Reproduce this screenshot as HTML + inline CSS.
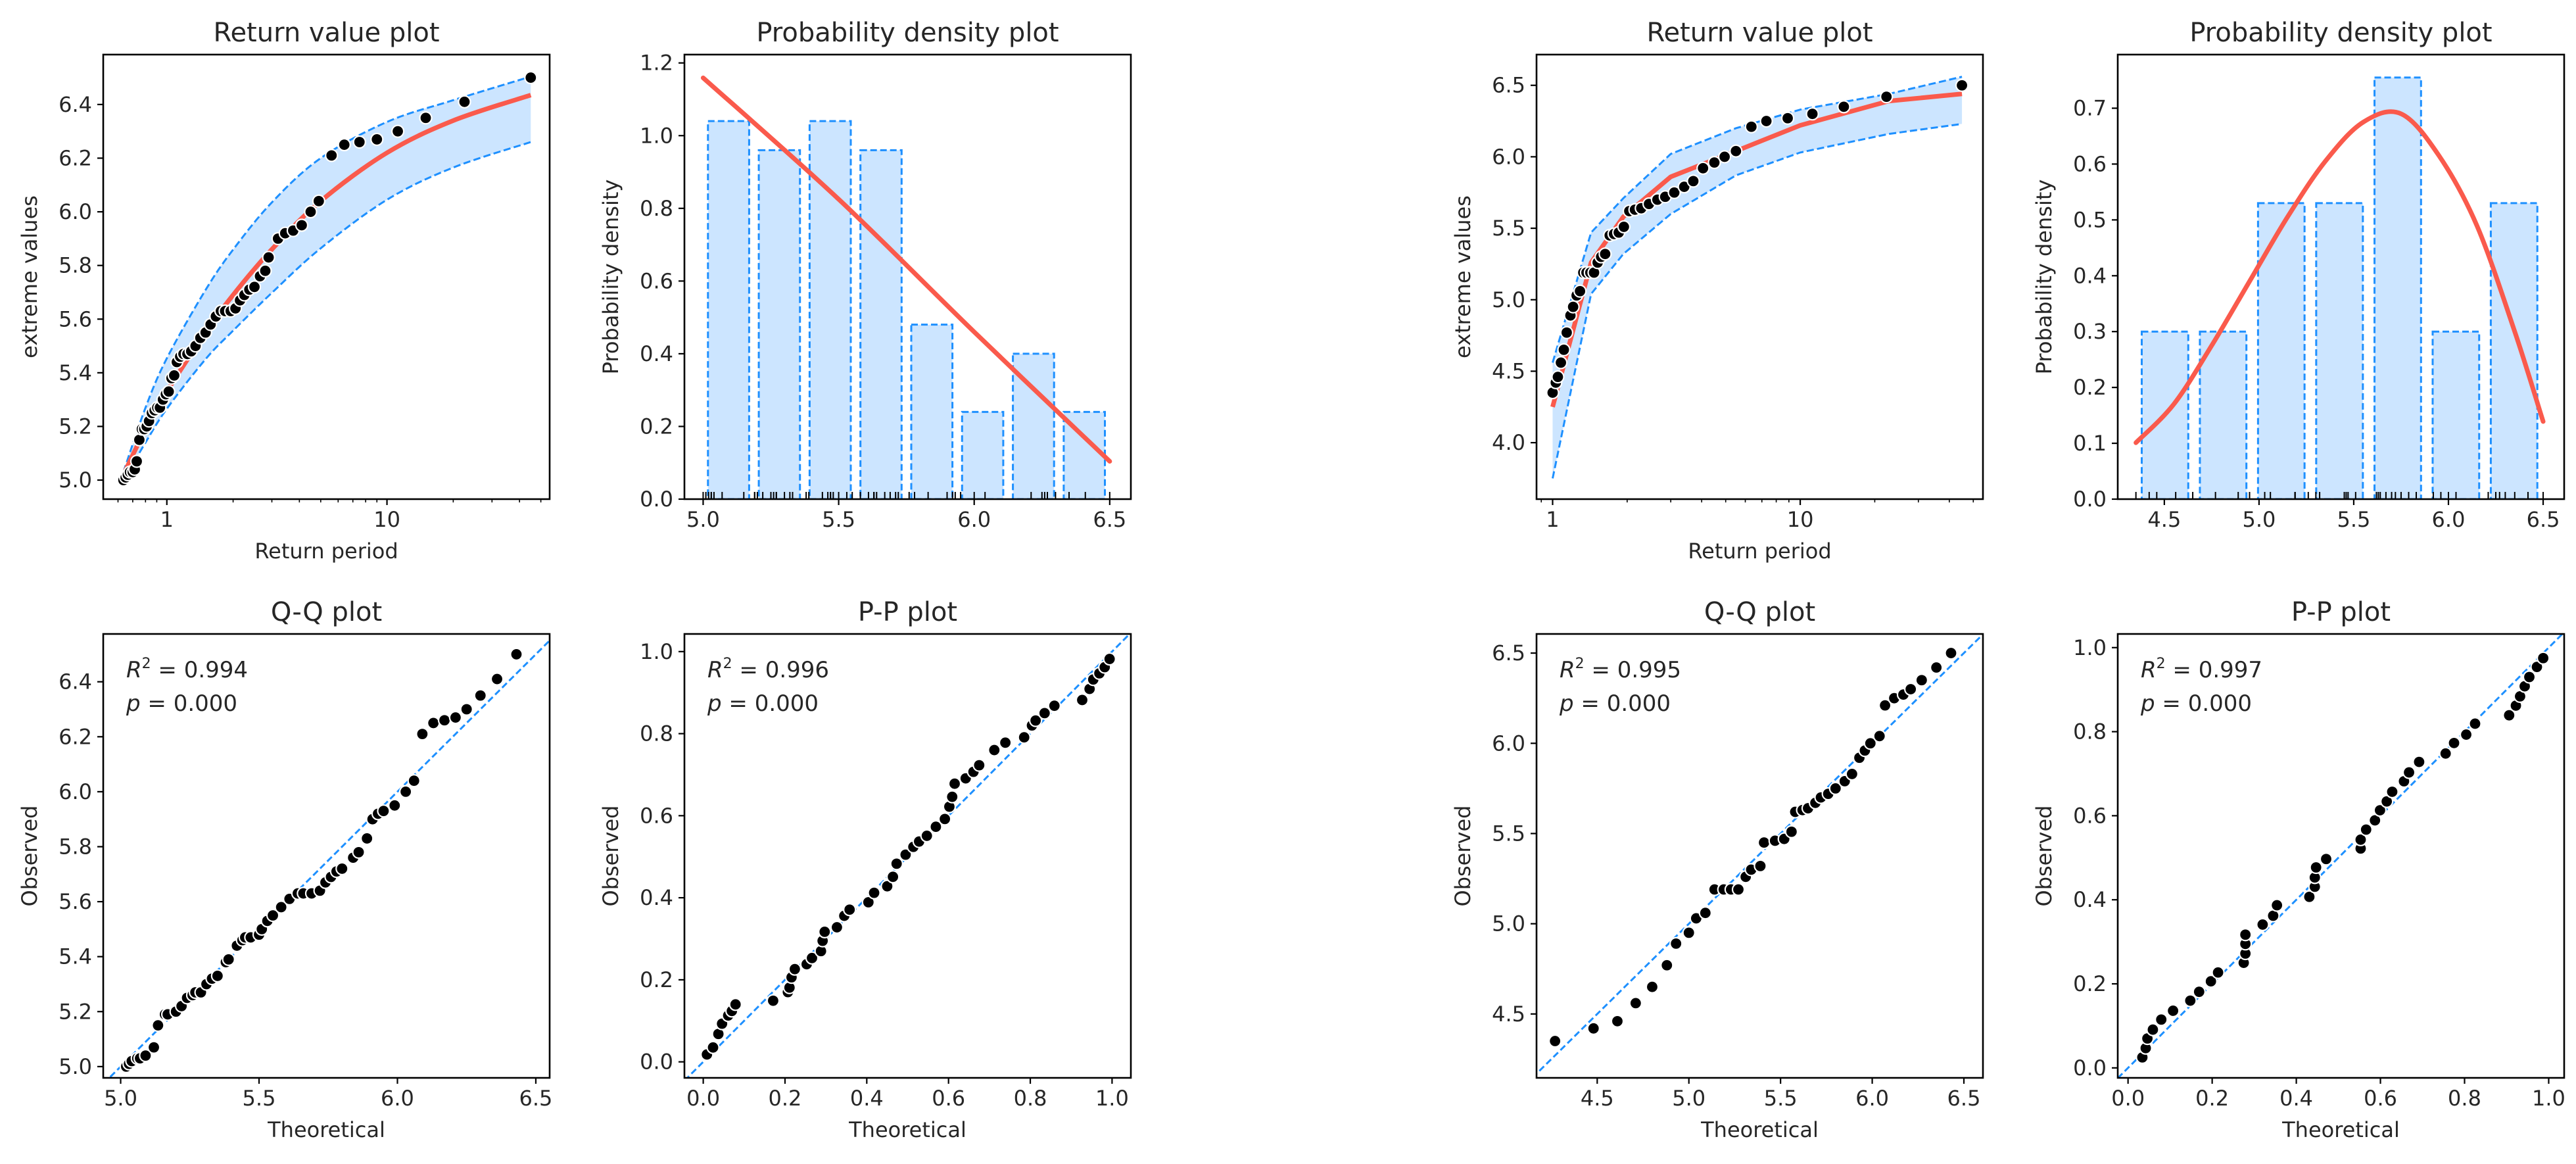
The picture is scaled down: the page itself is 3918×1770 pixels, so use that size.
<!DOCTYPE html>
<html><head><meta charset="utf-8"><style>
html,body{margin:0;padding:0;background:#fff;}
svg{display:block;font-family:"DejaVu Sans","Liberation Sans",sans-serif;}
</style></head><body>
<svg id="fig" width="3918" height="1770" viewBox="0 0 3918 1770" xmlns="http://www.w3.org/2000/svg"></svg>
<script>
// ---------- data: left dataset ----------
const lrObs=[5.00,5.01,5.02,5.03,5.03,5.04,5.07,5.15,5.19,5.19,5.20,5.22,5.25,5.26,5.27,5.27,5.30,5.32,5.33,5.38,5.39,5.44,5.46,5.47,5.47,5.48,5.50,5.53,5.55,5.58,5.61,5.63,5.63,5.63,5.64,5.67,5.69,5.71,5.72,5.76,5.78,5.83,5.90,5.92,5.93,5.95,6.00,6.04,6.21,6.25,6.26,6.27,6.30,6.35,6.41,6.50];
const lrPeriod=[0.635,0.65,0.665,0.68,0.70,0.715,0.73,0.75,0.77,0.79,0.81,0.83,0.855,0.88,0.905,0.93,0.96,0.99,1.02,1.05,1.08,1.11,1.15,1.19,1.24,1.29,1.35,1.42,1.50,1.58,1.67,1.76,1.84,1.95,2.05,2.15,2.25,2.37,2.50,2.65,2.8,2.9,3.2,3.45,3.75,4.1,4.5,4.9,5.6,6.4,7.5,9.0,11.2,15.0,22.5,45];
const lrCurveT=[0.635,0.8,1,1.5,2,3,5,10,20,45];
const lrFit=[5.02,5.19,5.33,5.55,5.69,5.86,6.04,6.22,6.34,6.435];
const lrUpper=[5.03,5.27,5.454,5.709,5.859,6.035,6.20,6.335,6.416,6.504];
const lrLower=[5.00,5.14,5.266,5.451,5.557,5.698,5.864,6.045,6.165,6.26];
const lpBinEdges=[5.0,5.1875,5.375,5.5625,5.75,5.9375,6.125,6.3125,6.5];
const lpDensity=[1.04,0.96,1.04,0.96,0.48,0.24,0.40,0.24];
const lpCurveX=[5.0,5.5,6.0,6.5];
const lpCurveY=[1.159,0.825,0.46,0.104];
const lqTheor=[5.02,5.03,5.04,5.06,5.07,5.09,5.12,5.135,5.16,5.17,5.20,5.22,5.24,5.26,5.27,5.29,5.31,5.33,5.35,5.38,5.39,5.42,5.44,5.45,5.47,5.50,5.51,5.53,5.55,5.58,5.61,5.64,5.66,5.69,5.72,5.74,5.76,5.78,5.80,5.84,5.86,5.89,5.91,5.93,5.95,5.99,6.03,6.06,6.09,6.13,6.17,6.21,6.25,6.30,6.36,6.43];
const lqObs=lrObs;
const lppTheor=[0.009,0.024,0.037,0.046,0.061,0.07,0.079,0.171,0.207,0.211,0.216,0.224,0.253,0.266,0.288,0.292,0.297,0.327,0.345,0.358,0.404,0.418,0.45,0.464,0.473,0.495,0.514,0.528,0.547,0.569,0.591,0.602,0.609,0.615,0.642,0.661,0.675,0.712,0.739,0.785,0.804,0.813,0.835,0.859,0.927,0.945,0.954,0.969,0.982,0.994];
const lppObs=[0.018,0.035,0.068,0.093,0.113,0.124,0.14,0.149,0.17,0.181,0.206,0.226,0.238,0.253,0.27,0.295,0.317,0.328,0.356,0.371,0.389,0.412,0.428,0.451,0.483,0.505,0.524,0.537,0.551,0.573,0.592,0.622,0.646,0.678,0.691,0.707,0.723,0.76,0.778,0.791,0.82,0.832,0.85,0.868,0.882,0.909,0.932,0.947,0.962,0.982];
// ---------- data: right dataset ----------
const rrObs=[4.35,4.42,4.46,4.56,4.65,4.77,4.89,4.95,5.03,5.06,5.19,5.19,5.19,5.19,5.26,5.30,5.32,5.45,5.46,5.47,5.51,5.62,5.63,5.64,5.67,5.70,5.72,5.75,5.79,5.83,5.92,5.96,6.00,6.04,6.21,6.25,6.27,6.30,6.35,6.42,6.50];
const rrPeriod=[1.00,1.03,1.05,1.08,1.11,1.14,1.18,1.21,1.25,1.29,1.33,1.37,1.42,1.47,1.52,1.57,1.63,1.70,1.77,1.85,1.94,2.04,2.15,2.28,2.45,2.65,2.85,3.1,3.4,3.7,4.05,4.5,4.95,5.5,6.35,7.3,8.9,11.2,15.0,22.3,45];
const rrCurveT=[1.0,1.43,1.93,3.0,5.5,10,22.8,45];
const rrFit=[4.25,5.26,5.58,5.86,6.04,6.22,6.39,6.44];
const rrUpper=[4.56,5.47,5.71,6.02,6.20,6.33,6.44,6.56];
const rrLower=[3.75,5.04,5.32,5.60,5.87,6.03,6.16,6.23];
const rpBinEdges=[4.35,4.657,4.964,5.271,5.579,5.886,6.193,6.5];
const rpDensity=[0.30,0.30,0.53,0.53,0.755,0.30,0.53];
const rpCurveX=[4.35,4.55,4.75,4.95,5.15,5.35,5.55,5.75,5.95,6.15,6.35,6.5];
const rpCurveY=[0.101,0.17,0.275,0.39,0.505,0.605,0.675,0.69,0.615,0.49,0.30,0.139];
const rqTheor=[4.27,4.48,4.61,4.71,4.80,4.88,4.93,5.00,5.04,5.09,5.14,5.19,5.23,5.27,5.31,5.34,5.39,5.41,5.47,5.52,5.56,5.58,5.62,5.65,5.69,5.72,5.76,5.80,5.85,5.89,5.93,5.96,5.99,6.04,6.07,6.12,6.17,6.21,6.27,6.35,6.43];
const rqObs=rrObs;
const rppTheor=[0.034,0.042,0.046,0.059,0.079,0.107,0.148,0.169,0.197,0.214,0.275,0.279,0.279,0.279,0.320,0.345,0.354,0.431,0.444,0.444,0.447,0.471,0.553,0.553,0.566,0.587,0.599,0.615,0.628,0.656,0.668,0.692,0.755,0.775,0.804,0.825,0.906,0.922,0.932,0.943,0.954,0.972,0.987];
const rppObs=[0.025,0.047,0.070,0.091,0.115,0.136,0.160,0.181,0.206,0.227,0.250,0.272,0.295,0.317,0.341,0.362,0.387,0.407,0.431,0.453,0.477,0.497,0.522,0.543,0.567,0.589,0.613,0.634,0.657,0.682,0.703,0.728,0.748,0.773,0.793,0.819,0.839,0.862,0.884,0.908,0.930,0.954,0.975];
// tick labels
const lrYTicks=[5.0,5.2,5.4,5.6,5.8,6.0,6.2,6.4];
const rrYTicks=[4.0,4.5,5.0,5.5,6.0,6.5];
const logTicks=[1,10];
const logMinor=[0.6,0.7,0.8,0.9,2,3,4,5,6,7,8,9,20,30,40,50];
const lpYTicks=[0.0,0.2,0.4,0.6,0.8,1.0,1.2];
const lpXTicks=[5.0,5.5,6.0,6.5];
const rpYTicks=[0.0,0.1,0.2,0.3,0.4,0.5,0.6,0.7];
const rpXTicks=[4.5,5.0,5.5,6.0,6.5];
const lqYTicks=[5.0,5.2,5.4,5.6,5.8,6.0,6.2,6.4];
const lqXTicks=[5.0,5.5,6.0,6.5];
const rqTicks=[4.5,5.0,5.5,6.0,6.5];
const ppTicks=[0.0,0.2,0.4,0.6,0.8,1.0];

const NS="http://www.w3.org/2000/svg";
const svg=document.getElementById('fig');
const TXT="#262626", BLUE="#1e90ff", FILL="#cce5ff", RED="#fa5a4c";
function mk(tag,attrs,parent){const e=document.createElementNS(NS,tag);for(const k in attrs)e.setAttribute(k,attrs[k]);(parent||svg).appendChild(e);return e;}
let clipId=0;
function makeAxes(box,xd,yd,logx,name){
  const g=mk('g',{});
  
  
  const sx=v=>{const t=logx?Math.log10(v):v;return box.x+(t-xd[0])/(xd[1]-xd[0])*box.w;};
  const sy=v=>box.y+box.h-(v-yd[0])/(yd[1]-yd[0])*box.h;
  const id='c'+(clipId++);
  const cp=mk('clipPath',{id:id},g);mk('rect',{x:box.x,y:box.y,width:box.w,height:box.h},cp);
  const plot=mk('g',{'clip-path':'url(#'+id+')'},g);
  return {g,plot,sx,sy,box};
}
function frame(ax){
  const b=ax.box;
  const r=mk('rect',{x:b.x,y:b.y,width:b.w,height:b.h,fill:'none',stroke:'#000','stroke-width':2.6},ax.g);
  
  
}
function fmt(v,d){return v.toFixed(d);}
function xticks(ax,vals,labels,minor){
  const b=ax.box;
  vals.forEach((v,i)=>{const x=ax.sx(v);
    mk('line',{x1:x,x2:x,y1:b.y+b.h,y2:b.y+b.h+9,stroke:'#000','stroke-width':2.2},ax.g);
    const t=mk('text',{x:x,y:b.y+b.h+42,'text-anchor':'middle','font-size':32,fill:TXT},ax.g);
    t.textContent=labels[i];
    
    
  });
  (minor||[]).forEach(v=>{const x=ax.sx(v);if(x<b.x||x>b.x+b.w)return;
    mk('line',{x1:x,x2:x,y1:b.y+b.h,y2:b.y+b.h+5,stroke:'#000','stroke-width':1.6},ax.g);});
}
function yticks(ax,vals,labels){
  const b=ax.box;
  vals.forEach((v,i)=>{const y=ax.sy(v);
    mk('line',{x1:b.x-9,x2:b.x,y1:y,y2:y,stroke:'#000','stroke-width':2.2},ax.g);
    const t=mk('text',{x:b.x-17,y:y+11,'text-anchor':'end','font-size':32,fill:TXT},ax.g);
    t.textContent=labels[i];
    
    
  });
}
function labels(ax,title,xl,yl){
  const b=ax.box,cx=b.x+b.w/2;
  const t=mk('text',{x:cx,y:b.y-20,'text-anchor':'middle','font-size':40,fill:TXT},ax.g);t.textContent=title;
  
  
  const x=mk('text',{x:cx,y:b.y+b.h+90,'text-anchor':'middle','font-size':32,fill:TXT},ax.g);x.textContent=xl;
  
  
  const yx=b.x-112,yy=b.y+b.h/2;
  const y=mk('text',{x:yx,y:yy,'text-anchor':'middle','font-size':32,fill:TXT,transform:'rotate(-90 '+yx+' '+yy+')','dominant-baseline':'central'},ax.g);y.textContent=yl;
  
  
}
function smooth(pts){
  let d='M'+pts[0][0]+','+pts[0][1];
  for(let i=0;i<pts.length-1;i++){
    const p0=pts[Math.max(0,i-1)],p1=pts[i],p2=pts[i+1],p3=pts[Math.min(pts.length-1,i+2)];
    const c1=[p1[0]+(p2[0]-p0[0])/6,p1[1]+(p2[1]-p0[1])/6],c2=[p2[0]-(p3[0]-p1[0])/6,p2[1]-(p3[1]-p1[1])/6];
    d+=' C'+c1+' '+c2+' '+p2;
  }
  return d;
}
function poly(pts){return 'M'+pts.map(p=>p[0]+','+p[1]).join(' L');}
function points(ax,xs,ys){
  xs.forEach((v,i)=>{const c=mk('circle',{cx:ax.sx(v),cy:ax.sy(ys[i]),r:9,fill:'#000',stroke:'#fff','stroke-width':2.2},ax.plot);
    
    });
}
function returnPlot(box,xd,yd,T,obs,cT,fit,up,lo,yT,smoothIt){
  const ax=makeAxes(box,xd,yd,true,'return-value-plot');
  const f=smoothIt?smooth:poly;
  const U=cT.map((t,i)=>[ax.sx(t),ax.sy(up[i])]),L=cT.map((t,i)=>[ax.sx(t),ax.sy(lo[i])]);
  const band=mk('path',{d:f(U)+' L'+f(L.slice().reverse()).slice(1)+' Z',fill:FILL,stroke:'none'},ax.plot);
  
  
  const ul=mk('path',{d:f(U),fill:'none',stroke:BLUE,'stroke-width':3,'stroke-dasharray':'11,5'},ax.plot);
  
  
  const ll=mk('path',{d:f(L),fill:'none',stroke:BLUE,'stroke-width':3,'stroke-dasharray':'11,5'},ax.plot);
  
  
  const fl=mk('path',{d:f(cT.map((t,i)=>[ax.sx(t),ax.sy(fit[i])])),fill:'none',stroke:RED,'stroke-width':7,'stroke-linejoin':'round'},ax.plot);
  
  
  points(ax,T,obs);
  frame(ax);
  xticks(ax,logTicks,logTicks.map(String),logMinor);
  yticks(ax,yT,yT.map(v=>fmt(v,1)));
  labels(ax,'Return value plot','Return period','extreme values');
}
function pdfPlot(box,xd,yd,edges,dens,rw,cx,cy,obs,xT,yT,sm){
  const ax=makeAxes(box,xd,yd,false,'probability-density-plot');
  dens.forEach((h,i)=>{const w=edges[i+1]-edges[i],c=(edges[i]+edges[i+1])/2;
    const x0=ax.sx(c-w*rw/2),x1=ax.sx(c+w*rw/2),y0=ax.sy(h),yb=ax.sy(0);
    const r=mk('rect',{x:x0,y:y0,width:x1-x0,height:yb-y0,fill:FILL,stroke:BLUE,'stroke-width':3,'stroke-dasharray':'10,5'},ax.plot);
    
    
  });
  obs.forEach(v=>{const x=ax.sx(v);const l=mk('line',{x1:x,x2:x,y1:ax.sy(0),y2:ax.sy(0)-11,stroke:'#000','stroke-width':2},ax.plot);
    
    });
  const pts=cx.map((v,i)=>[ax.sx(v),ax.sy(cy[i])]);
  const p=mk('path',{d:sm?smooth(pts):poly(pts),fill:'none',stroke:RED,'stroke-width':7,'stroke-linecap':'round'},ax.plot);
  
  
  frame(ax);
  xticks(ax,xT,xT.map(v=>fmt(v,1)));
  yticks(ax,yT,yT.map(v=>fmt(v,1)));
  labels(ax,'Probability density plot','','Probability density');
}
function scatterPlot(box,xd,yd,xs,ys,xT,yT,title,r2){
  const ax=makeAxes(box,xd,yd,false,title==='Q-Q plot'?'qq-plot':'pp-plot');
  const lo=Math.min(xd[0],yd[0]),hi=Math.max(xd[1],yd[1]);
  const d=mk('line',{x1:ax.sx(lo),y1:ax.sy(lo),x2:ax.sx(hi),y2:ax.sy(hi),stroke:BLUE,'stroke-width':3,'stroke-dasharray':'10,5'},ax.plot);
  
  
  points(ax,xs,ys);
  frame(ax);
  xticks(ax,xT,xT.map(v=>fmt(v,1)));
  yticks(ax,yT,yT.map(v=>fmt(v,1)));
  labels(ax,title,'Theoretical','Observed');
  const b=ax.box;
  const t1=mk('text',{x:b.x+35,y:b.y+66,'font-size':34,fill:TXT},ax.g);
  t1.innerHTML='<tspan font-style="italic">R</tspan><tspan font-size="22" dy="-14">2</tspan><tspan dy="14"> = '+r2+'</tspan>';
  
  
  const t2=mk('text',{x:b.x+35,y:b.y+117,'font-size':34,fill:TXT},ax.g);
  t2.innerHTML='<tspan font-style="italic">p</tspan> = 0.000';
  
  
}
const TOP={y:83,h:676},BOT={y:964,h:675},LX=[157,1041,2337,3221],PW=679;
returnPlot({x:LX[0],y:TOP.y,w:PW,h:TOP.h},[-0.289,1.739],[4.929,6.586],lrPeriod,lrObs,lrCurveT,lrFit,lrUpper,lrLower,lrYTicks,true);
pdfPlot({x:LX[1],y:TOP.y,w:PW,h:TOP.h},[4.931,6.578],[0,1.223],lpBinEdges,lpDensity,0.81,lpCurveX,lpCurveY,lrObs,lpXTicks,lpYTicks,true);
returnPlot({x:LX[2],y:TOP.y,w:PW,h:TOP.h},[-0.065,1.738],[3.605,6.715],rrPeriod,rrObs,rrCurveT,rrFit,rrUpper,rrLower,rrYTicks,false);
pdfPlot({x:LX[3],y:TOP.y,w:PW,h:TOP.h},[4.254,6.611],[0,0.796],rpBinEdges,rpDensity,0.80,rpCurveX,rpCurveY,rrObs,rpXTicks,rpYTicks,true);
scatterPlot({x:LX[0],y:BOT.y,w:PW,h:BOT.h},[4.937,6.55],[4.959,6.574],lqTheor,lqObs,lqXTicks,lqYTicks,'Q-Q plot','0.994');
scatterPlot({x:LX[1],y:BOT.y,w:PW,h:BOT.h},[-0.046,1.046],[-0.039,1.043],lppTheor,lppObs,ppTicks,ppTicks,'P-P plot','0.996');
scatterPlot({x:LX[2],y:BOT.y,w:PW,h:BOT.h},[4.169,6.604],[4.146,6.606],rqTheor,rqObs,rqTicks,rqTicks,'Q-Q plot','0.995');
scatterPlot({x:LX[3],y:BOT.y,w:PW,h:BOT.h},[-0.0245,1.0368],[-0.0237,1.0325],rppTheor,rppObs,ppTicks,ppTicks,'P-P plot','0.997');
</script>
</body></html>
